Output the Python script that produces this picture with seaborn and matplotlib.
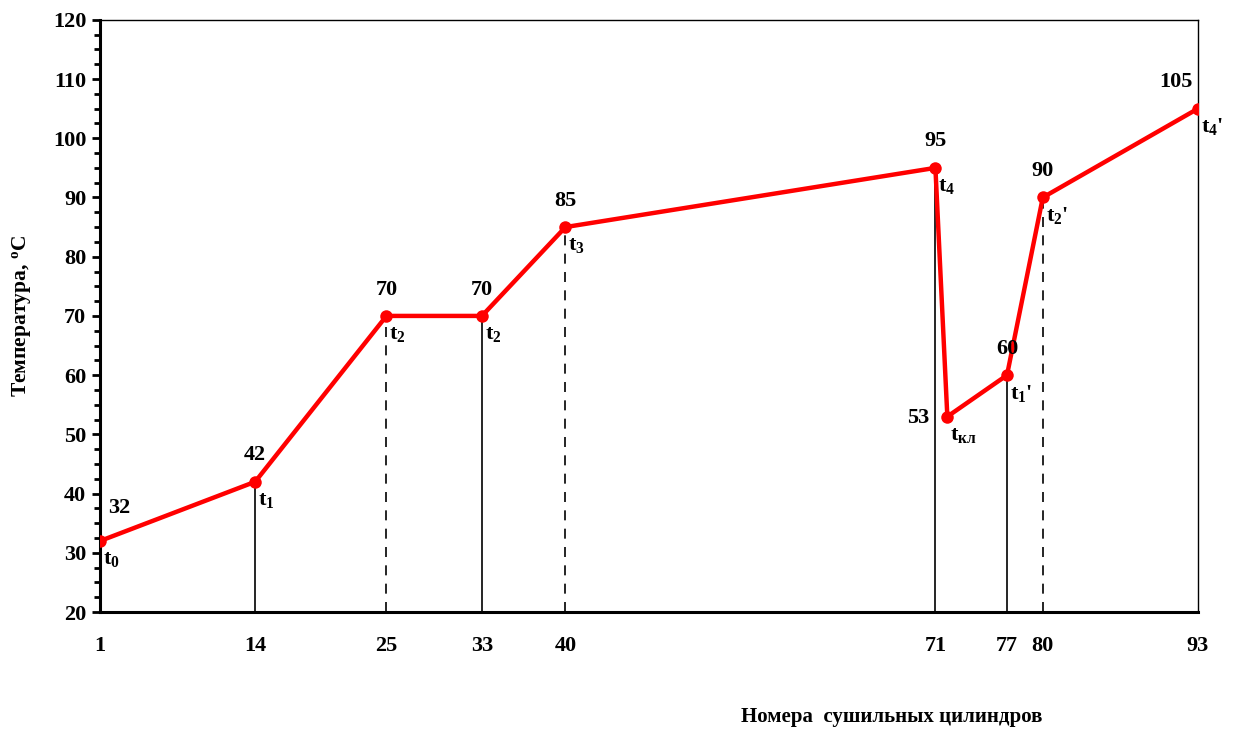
import matplotlib
matplotlib.use('Agg')
import matplotlib.pyplot as plt
from matplotlib.ticker import MultipleLocator
import seaborn as sns
import pandas as pd

# номера цилиндров и температуры
cylinders = [1, 14, 25, 33, 40, 71, 72, 77, 80, 93]
temps = [32, 42, 70, 70, 85, 95, 53, 60, 90, 105]
point_names = ['t$_0$', 't$_1$', 't$_2$', 't$_2$', 't$_3$', 't$_4$', 't$_{кл}$', "t$_1$'", "t$_2$'", "t$_4$'"]

# вертикальные линии: позиция, высота, стиль
vline_x = [14, 25, 33, 40, 71, 77, 80]
vline_top = [42, 70, 70, 85, 95, 60, 90]
vline_dashed = [False, True, False, True, False, False, True]

xtick_values = [1, 14, 25, 33, 40, 71, 77, 80, 93]

sns.set_style('white')
plt.rcParams['font.family'] = ['Liberation Serif', 'DejaVu Serif']
plt.rcParams['font.weight'] = 'bold'
plt.rcParams['mathtext.fontset'] = 'custom'
plt.rcParams['mathtext.rm'] = 'Liberation Serif:bold'
plt.rcParams['mathtext.it'] = 'Liberation Serif:bold'
plt.rcParams['mathtext.bf'] = 'Liberation Serif:bold'
plt.rcParams['mathtext.default'] = 'rm'
for key in ['text.color', 'axes.labelcolor', 'xtick.color', 'ytick.color']:
    plt.rcParams[key] = 'black'

fig = plt.figure(figsize=(12.35, 7.33), dpi=100)
ax = fig.add_axes([0.081, 0.165, 0.889, 0.808])

df = pd.DataFrame({'cyl': cylinders, 'temp': temps})

# вертикальные линии от оси до точки
for x, top, dashed in zip(vline_x, vline_top, vline_dashed):
    ax.vlines(x, 20, top, colors='black', linewidth=1.2,
              linestyles=(0, (6, 5)) if dashed else 'solid', zorder=1)

sns.lineplot(data=df, x='cyl', y='temp', sort=False, color='red', linewidth=3.2,
             marker='o', markersize=9, markeredgewidth=0, ax=ax, zorder=3)

# подписи значений
fs = 16
for i, (x, y) in enumerate(zip(cylinders, temps)):
    if i == 0:
        off = (14, 24)
    elif y == 53:
        off = (-21, -1)
    elif y == 105:
        off = (-16, 19)
    else:
        off = (0, 19)
    ax.annotate(str(y), (x, y), xytext=off, textcoords='offset points',
                ha='center', va='center', fontsize=fs, fontweight='bold')
    ax.annotate(point_names[i], (x, y), xytext=(2, -13), textcoords='offset points',
                ha='left', va='center', fontsize=fs, fontweight='bold')

ax.set_xlim(1, 93)
ax.set_ylim(20, 120)
ax.set_xticks(xtick_values)
ax.set_xticklabels([str(v) for v in xtick_values], fontsize=fs, fontweight='bold')
ax.yaxis.set_major_locator(MultipleLocator(10))
ax.yaxis.set_minor_locator(MultipleLocator(2.5))
for lbl in ax.get_yticklabels():
    lbl.set_fontsize(fs)
    lbl.set_fontweight('bold')

ax.tick_params(axis='x', length=0, pad=17)
ax.tick_params(axis='y', which='major', direction='out', length=6, width=2, left=True, pad=4)
ax.tick_params(axis='y', which='minor', direction='out', length=4, width=2, left=True)

for side in ['left', 'bottom']:
    ax.spines[side].set_linewidth(2.2)
for side in ['top', 'right']:
    ax.spines[side].set_linewidth(1.0)
for s in ax.spines.values():
    s.set_color('black')
    s.set_visible(True)

ax.set_xlabel('Номера  сушильных цилиндров', fontsize=15, fontweight='bold')
ax.xaxis.set_label_coords(0.721, -0.161)
ax.set_ylabel('Температура, $^{\\mathrm{o}}$C', fontsize=15.5, fontweight='bold')
ax.yaxis.set_label_coords(-0.061, 0.5)

plt.savefig('out.png', dpi=100)
plt.close()
